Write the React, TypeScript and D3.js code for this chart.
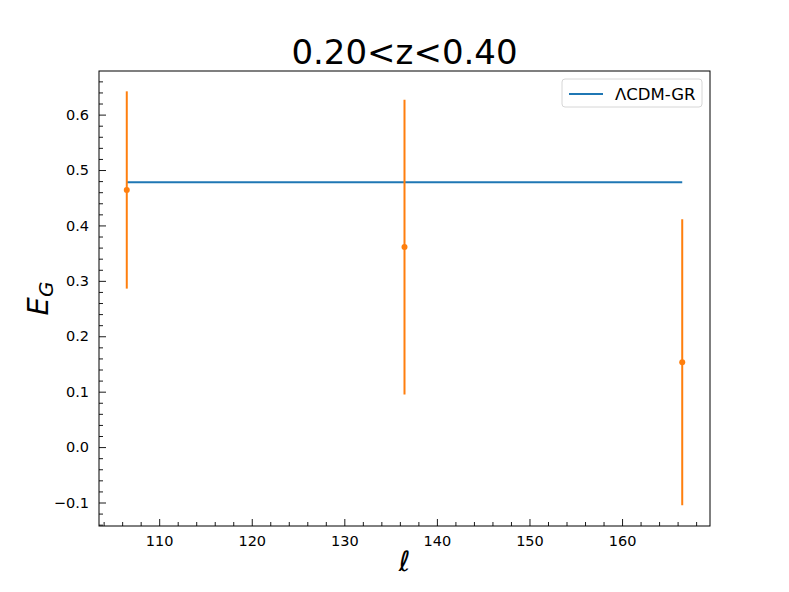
import React, { useEffect, useRef } from 'react';
import * as d3 from 'd3';

// multipole bins and measured E_G with 1-sigma errors
const ells = [106.5, 136.5, 166.5];
const egValues = [0.464, 0.361, 0.153];
const egErrors = [0.178, 0.266, 0.258];
// LCDM-GR prediction
const modelEll = [106.5, 166.5];
const modelEg = [0.478, 0.478];

const xTicks = [110, 120, 130, 140, 150, 160];
const yTicks = [-0.1, 0.0, 0.1, 0.2, 0.3, 0.4, 0.5, 0.6];

const blue = '#1f77b4';
const orange = '#ff7f0e';

const App = () => {
  const svgRef = useRef<SVGSVGElement>(null);

  useEffect(() => {
    const svg = d3.select(svgRef.current);
    svg.selectAll('*').remove();

    const W = 789;
    const H = 592;
    const margin = { top: 71, right: 79, bottom: 66, left: 99 };
    const width = W - margin.left - margin.right;
    const height = H - margin.top - margin.bottom;
    const font = '"DejaVu Sans", sans-serif';

    svg.attr('width', W).attr('height', H);
    svg.append('rect').attr('width', W).attr('height', H).attr('fill', '#fff');

    const g = svg.append('g').attr('transform', `translate(${margin.left},${margin.top})`);

    const x = d3.scaleLinear().domain([103.5, 169.5]).range([0, width]);
    const y = d3.scaleLinear().domain([-0.1424, 0.6787]).range([height, 0]);

    // minor ticks (inward)
    const xMinor = d3.range(104, 170, 2).filter(v => v % 10 !== 0);
    const yMinor = d3.range(-14, 68, 2).map(v => v / 100).filter(v => Math.abs(Math.round(v * 100) % 10) !== 0);

    const xAxis = g.append('g').attr('transform', `translate(0,${height})`)
      .call(d3.axisBottom(x).tickValues(xTicks).tickSize(-7).tickPadding(10).tickFormat(d3.format('d')));
    const yAxis = g.append('g')
      .call(d3.axisLeft(y).tickValues(yTicks).tickSize(-7).tickPadding(10)
        .tickFormat(d => (+d < 0 ? '\u2212' + d3.format('.1f')(-d) : d3.format('.1f')(+d))));
    g.append('g').attr('transform', `translate(0,${height})`)
      .call(d3.axisBottom(x).tickValues(xMinor).tickSize(-4).tickFormat(() => ''));
    g.append('g')
      .call(d3.axisLeft(y).tickValues(yMinor).tickSize(-4).tickFormat(() => ''));

    for (const ax of [xAxis, yAxis]) {
      ax.selectAll('text').attr('font-family', font).attr('font-size', 14.5).attr('fill', '#000');
    }
    g.selectAll('.domain').remove();
    g.selectAll('.tick line').attr('stroke', '#000').attr('stroke-width', 0.9);

    // frame
    g.append('rect').attr('width', width).attr('height', height)
      .attr('fill', 'none').attr('stroke', '#000').attr('stroke-width', 1);

    // model line
    const line = d3.line<number>().x((d, i) => x(modelEll[i])).y(d => y(d));
    g.append('path').datum(modelEg).attr('d', line)
      .attr('fill', 'none').attr('stroke', blue).attr('stroke-width', 2);

    // error bars
    g.selectAll('.err').data(egValues).enter().append('line')
      .attr('x1', (d, i) => x(ells[i])).attr('x2', (d, i) => x(ells[i]))
      .attr('y1', (d, i) => y(d - egErrors[i])).attr('y2', (d, i) => y(d + egErrors[i]))
      .attr('stroke', orange).attr('stroke-width', 2);
    g.selectAll('.pt').data(egValues).enter().append('circle')
      .attr('cx', (d, i) => x(ells[i])).attr('cy', d => y(d)).attr('r', 3)
      .attr('fill', orange);

    // legend
    const leg = g.append('g').attr('transform', `translate(${width - 148},8)`);
    leg.append('rect').attr('width', 140).attr('height', 28).attr('rx', 3)
      .attr('fill', '#fff').attr('stroke', '#d6d6d6').attr('stroke-width', 1);
    leg.append('line').attr('x1', 7).attr('x2', 41).attr('y1', 15).attr('y2', 15)
      .attr('stroke', blue).attr('stroke-width', 2);
    leg.append('text').attr('x', 53).attr('y', 20.5).attr('font-family', font)
      .attr('font-size', 16.5).text('\u039BCDM-GR');

    // title
    svg.append('text').attr('x', margin.left + width / 2).attr('y', 64)
      .attr('text-anchor', 'middle').attr('font-family', font).attr('font-size', 34)
      .text('0.20<z<0.40');

    // axis labels
    svg.append('text').attr('transform', `translate(48,${margin.top + height / 2}) rotate(-90)`)
      .attr('text-anchor', 'middle').attr('font-family', font).attr('font-size', 29)
      .attr('font-style', 'italic')
      .call(t => {
        t.append('tspan').text('E');
        t.append('tspan').attr('font-size', 20).attr('dy', 5).text('G');
      });
    svg.append('text').attr('x', margin.left + width / 2).attr('y', 571)
      .attr('text-anchor', 'middle').attr('font-family', font).attr('font-size', 28)
      .attr('font-style', 'italic').text('\u2113');
  }, []);

  return <svg ref={svgRef} style={{ display: 'block', position: 'absolute', left: 0, top: 0 }}></svg>;
};

export default App;
